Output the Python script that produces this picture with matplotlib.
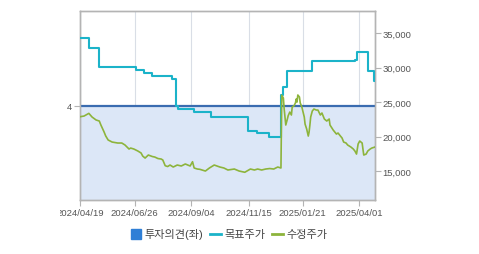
import matplotlib
matplotlib.use("Agg")
import matplotlib.pyplot as plt
import matplotlib.ticker as mticker
import pandas as pd
from matplotlib.lines import Line2D
from matplotlib.patches import Rectangle

plt.rcParams["font.family"] = ["Liberation Sans", "Noto Sans CJK KR"]

# 수정주가 (adjusted close, right axis)
price_dates = [
    "2024-04-19", "2024-04-24", "2024-04-30", "2024-05-04", "2024-05-09", "2024-05-13",
    "2024-05-15", "2024-05-19", "2024-05-21", "2024-05-24", "2024-05-29", "2024-06-05",
    "2024-06-10", "2024-06-14", "2024-06-19", "2024-06-21", "2024-06-25", "2024-06-30",
    "2024-07-04", "2024-07-06", "2024-07-09", "2024-07-13", "2024-07-18", "2024-07-21",
    "2024-07-25", "2024-07-29", "2024-07-31", "2024-08-03", "2024-08-06", "2024-08-09",
    "2024-08-13", "2024-08-18", "2024-08-23", "2024-08-28", "2024-09-03", "2024-09-06",
    "2024-09-08", "2024-09-12", "2024-09-15", "2024-09-22", "2024-09-27", "2024-10-03",
    "2024-10-10", "2024-10-15", "2024-10-20", "2024-10-28", "2024-11-03", "2024-11-10",
    "2024-11-17", "2024-11-22", "2024-11-26", "2024-12-01", "2024-12-06", "2024-12-11",
    "2024-12-16", "2024-12-21", "2024-12-25", "2024-12-26", "2024-12-28", "2024-12-29",
    "2024-12-31", "2025-01-02", "2025-01-03", "2025-01-05", "2025-01-07", "2025-01-08",
    "2025-01-10", "2025-01-12", "2025-01-13", "2025-01-14", "2025-01-15", "2025-01-17",
    "2025-01-18", "2025-01-20", "2025-01-23", "2025-01-24", "2025-01-26", "2025-01-28",
    "2025-01-29", "2025-01-30", "2025-01-31", "2025-02-02", "2025-02-04", "2025-02-07",
    "2025-02-09", "2025-02-12", "2025-02-14", "2025-02-17", "2025-02-20", "2025-02-23",
    "2025-02-24", "2025-02-28", "2025-03-04", "2025-03-06", "2025-03-09", "2025-03-11",
    "2025-03-13", "2025-03-16", "2025-03-18", "2025-03-22", "2025-03-25", "2025-03-27",
    "2025-03-29", "2025-03-31", "2025-04-02", "2025-04-05", "2025-04-07", "2025-04-10",
    "2025-04-12", "2025-04-15", "2025-04-17", "2025-04-21",
]
price_values = [
    22870, 22970, 23360, 22830, 22400, 22250,
    21670, 20650, 20080, 19500, 19200, 19060,
    19060, 18770, 18190, 18330, 18190, 17900,
    17610, 17170, 16880, 17320, 17100, 17030,
    16810, 16740, 16600, 15770, 15650, 15870,
    15580, 15870, 15730, 16020, 15730, 16350,
    15440, 15290, 15250, 15000, 15440, 15870,
    15580, 15440, 15150, 15290, 15000, 14820,
    15290, 15150, 15290, 15150, 15290, 15360,
    15290, 15580, 15440, 26000, 25580, 24000,
    21670, 22540, 23020, 23550, 23120, 24280,
    24420, 24860, 25440, 25000, 26020, 25730,
    24860, 24280, 22830, 21810, 21090, 20070,
    20650, 21670, 22830, 23700, 23990, 23840,
    23840, 23120, 23410, 22540, 22250, 22540,
    21670, 20940, 20360, 20510, 20070, 19790,
    19200, 19060, 18770, 18480, 18190, 17900,
    17460, 18920, 19350, 19060, 17320, 17460,
    17900, 18190, 18330, 18480,
]

# 목표주가 (target price, right axis) - value holds from each date on
target_dates = [
    "2024-04-19", "2024-04-30", "2024-05-13", "2024-06-28", "2024-07-08", "2024-07-18",
    "2024-08-11", "2024-08-17", "2024-08-19", "2024-09-08", "2024-09-29", "2024-11-14",
    "2024-11-25", "2024-12-10", "2024-12-25", "2024-12-27", "2025-01-01", "2025-02-02",
    "2025-03-27", "2025-03-30", "2025-04-12", "2025-04-20", "2025-04-21",
]
target_values = [
    34300, 32800, 30100, 29700, 29250, 28800,
    28400, 24400, 24000, 23600, 22850, 20850,
    20450, 19950, 26000, 27200, 29550, 31000,
    31150, 32300, 29550, 28000, 28000,
]

# 투자의견 (opinion, left axis)
opinion_dates = ["2024-04-19", "2025-04-21"]
opinion_values = [4, 4]

tick_dates = ["2024-04-19", "2024-06-26", "2024-09-04", "2024-11-15", "2025-01-21", "2025-04-01"]
tick_labels = [d.replace("-", "/") for d in tick_dates]

blue = "#3a6cb0"
fill = "#dce7f7"
cyan = "#1bb3c9"
green = "#8db43c"
spine_gray = "#b4b4b4"
text_gray = "#555555"

fig = plt.figure(figsize=(4.79, 2.55), dpi=100)
ax = fig.add_axes([80 / 479, 54 / 255, 295 / 479, 189 / 255])

od = pd.to_datetime(opinion_dates)
ax.fill_between(od, 0, opinion_values, color=fill, lw=0, zorder=1)
ax.plot(od, opinion_values, color=blue, lw=1.6, zorder=3)
ax.set_ylim(0, 8)
ax.set_yticks([4])
ax.set_xlim(pd.Timestamp("2024-04-19"), pd.Timestamp("2025-04-21"))
ax.set_xticks(pd.to_datetime(tick_dates))
ax.set_xticklabels(tick_labels)
ax.grid(axis="x", color="#d9dee6", lw=0.8, zorder=0)
ax.set_axisbelow(True)

ax2 = ax.twinx()
ax2.plot(pd.to_datetime(target_dates), target_values, color=cyan, lw=1.5,
         drawstyle="steps-post", zorder=3)
ax2.plot(pd.to_datetime(price_dates), price_values, color=green, lw=1.2, zorder=4)
ax2.set_ylim(10800, 38200)
ax2.set_yticks([15000, 20000, 25000, 30000, 35000])
ax2.yaxis.set_major_formatter(mticker.FuncFormatter(lambda v, p: f"{v:,.0f}"))

for a in (ax, ax2):
    for s in a.spines.values():
        s.set_color(spine_gray)
        s.set_linewidth(1)
    a.tick_params(colors=spine_gray, labelcolor=text_gray, labelsize=6.8,
                  length=4, width=0.8, pad=1.5)

# the chart frame cuts off the start of the first date label
fig.add_artist(Rectangle((0, 0), 60.5 / 479, 0.2, transform=fig.transFigure,
                         facecolor="white", edgecolor="none", zorder=10))

handles = [
    Line2D([], [], marker="s", linestyle="none", markersize=7, color="#2f7fd6"),
    Line2D([], [], color=cyan, lw=2),
    Line2D([], [], color=green, lw=2),
]
fig.legend(handles, ["투자의견(좌)", "목표주가", "수정주가"],
           loc="center", bbox_to_anchor=(229 / 479, 1 - 235 / 255), ncol=3,
           frameon=False, fontsize=8, handlelength=1.0, handletextpad=0.3,
           columnspacing=0.6, labelcolor="#444444")

fig.savefig("out.png", dpi=100)
